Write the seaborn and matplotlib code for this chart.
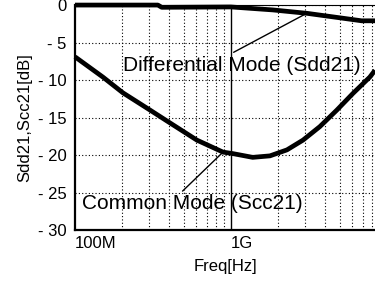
import numpy as np
import pandas as pd
import matplotlib
matplotlib.use('Agg')
import matplotlib.pyplot as plt
import seaborn as sns
from matplotlib.ticker import NullFormatter, LogLocator

# Data (frequency in Hz, value in dB)
sdd_freq = [1.0e8, 3.4e8, 3.6e8, 1.0e9, 1.86e9, 3.07e9, 5.0e9, 6.9e9, 8.4e9]
sdd_db = [0.0, 0.0, -0.3, -0.25, -0.65, -1.1, -1.7, -2.1, -2.1]

scc_freq = [1.0e8, 1.51e8, 2.03e8, 3.03e8, 4.06e8, 6.05e8, 8.9e8, 1.03e9,
            1.38e9, 1.78e9, 2.29e9, 2.9e9, 3.72e9, 4.78e9, 6.05e9, 7.78e9, 8.4e9]
scc_db = [-6.9, -9.6, -11.7, -14.0, -15.7, -18.0, -19.6, -19.8,
          -20.3, -20.1, -19.3, -18.0, -16.2, -14.0, -11.8, -9.6, -8.7]

y_ticks = [0, -5, -10, -15, -20, -25, -30]
y_labels = ['0', '- 5', '- 10', '- 15', '- 20', '- 25', '- 30']
x_ticks = [1e8, 1e9]
x_labels = ['100M', '1G']

sns.set_style('white')
plt.rcParams['font.family'] = ['Liberation Sans', 'DejaVu Sans']
plt.rcParams['text.color'] = 'black'
plt.rcParams['axes.labelcolor'] = 'black'
plt.rcParams['xtick.color'] = 'black'
plt.rcParams['ytick.color'] = 'black'

df = pd.concat([
    pd.DataFrame({'freq': sdd_freq, 'db': sdd_db, 'mode': 'Sdd21'}),
    pd.DataFrame({'freq': scc_freq, 'db': scc_db, 'mode': 'Scc21'}),
])

fig = plt.figure(figsize=(3.75, 2.81), dpi=100)
ax = fig.add_axes([0.2, 0.181, 0.8, 0.801])

sns.lineplot(data=df, x='freq', y='db', hue='mode', palette=['black', 'black'],
             linewidth=3.4, legend=False, ax=ax, estimator=None, sort=False)
for ln in ax.lines:
    ln.set_clip_on(False)
    ln.set_solid_joinstyle('round')
    ln.set_solid_capstyle('butt')
    ln.set_zorder(3)

ax.set_xscale('log')
ax.set_xlim(1e8, 8.4e9)
ax.set_ylim(-30, 0)

# grid: dotted at minor x ticks and major y ticks
ax.xaxis.set_minor_locator(LogLocator(base=10, subs=np.arange(2, 10)))
ax.xaxis.set_minor_formatter(NullFormatter())
ax.set_xticks(x_ticks)
ax.set_xticklabels(x_labels, ha='left')
ax.set_yticks(y_ticks)
ax.set_yticklabels(y_labels)
ax.grid(which='minor', axis='x', color='black', linestyle=(0, (1, 2)), linewidth=0.8)
ax.grid(which='major', axis='y', color='black', linestyle=(0, (1, 2)), linewidth=0.8)
ax.axvline(1e9, color='black', linewidth=1.0, zorder=1)
ax.tick_params(axis='both', which='both', length=0, labelsize=12, colors='black')
ax.tick_params(axis='x', pad=4)
ax.tick_params(axis='y', pad=6)

for s in ['left', 'bottom']:
    ax.spines[s].set_linewidth(1.6)
    ax.spines[s].set_color('black')
ax.spines['top'].set_linewidth(0.8)
ax.spines['top'].set_color('black')
ax.spines['right'].set_visible(False)

ax.set_xlabel('Freq[Hz]', fontsize=12, labelpad=6)
ax.set_ylabel('Sdd21,Scc21[dB]', fontsize=12, labelpad=4)

ax.annotate('Differential Mode (Sdd21)', xy=(3.0e9, -1.2), xytext=(2.03e8, -8.0),
            fontsize=15, ha='left', va='center', color='black',
            arrowprops=dict(arrowstyle='-', color='black', lw=1.0, shrinkA=0, shrinkB=0,
                            relpos=(0.44, 1.0)))
ax.annotate('Common Mode (Scc21)', xy=(8.9e8, -19.6), xytext=(1.11e8, -26.5),
            fontsize=15, ha='left', va='center', color='black',
            arrowprops=dict(arrowstyle='-', color='black', lw=1.0, shrinkA=0, shrinkB=0,
                            relpos=(0.44, 1.0)))

fig.savefig('out.png', dpi=100)
